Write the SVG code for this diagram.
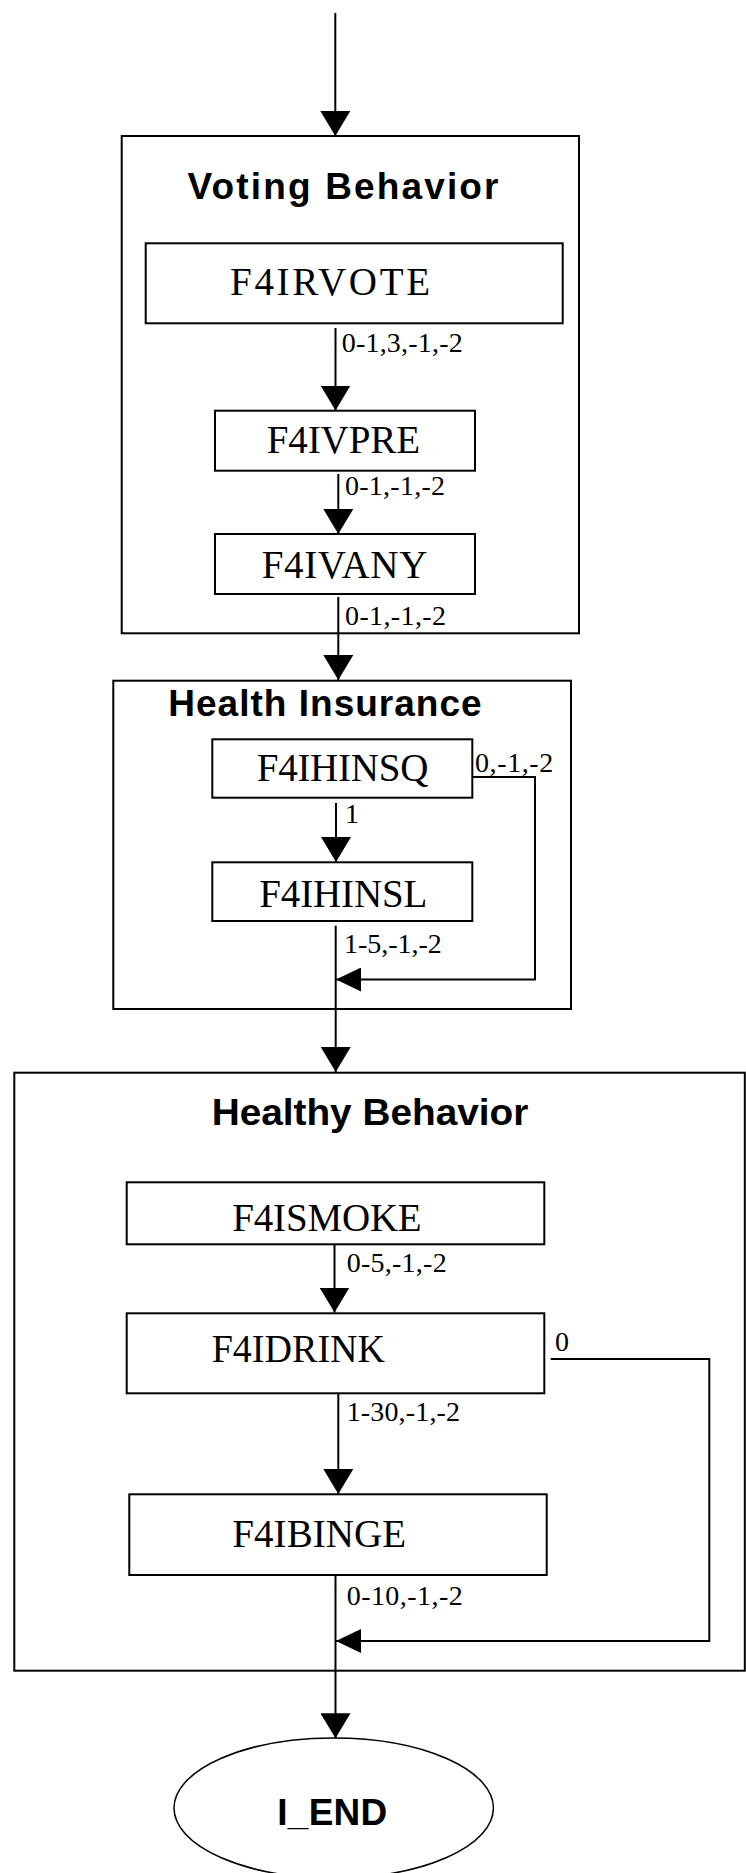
<svg xmlns="http://www.w3.org/2000/svg" width="746" height="1873" viewBox="0 0 746 1873">
<style>
.box{fill:none;stroke:#000;stroke-width:2}
.node{fill:#fff;stroke:#000;stroke-width:2}
.title{font-family:"Liberation Sans",Arial,sans-serif;font-weight:bold;font-size:37px;fill:#000}
.name{font-family:"Liberation Serif","Times New Roman",serif;font-size:39px;fill:#000}
.lbl{font-family:"Liberation Serif","Times New Roman",serif;font-size:28px;fill:#000}
.edge{fill:none;stroke:#000;stroke-width:2;marker-end:url(#arr)}
.edge2{fill:none;stroke:#000;stroke-width:2;marker-end:url(#arrs)}
</style>
<defs>
<marker id="arr" markerUnits="userSpaceOnUse" markerWidth="26" markerHeight="30" refX="25" refY="15" orient="auto" viewBox="0 0 26 30">
<path d="M0,0 L25,15 L0,30 z" fill="#000"/>
</marker>
<marker id="arrs" markerUnits="userSpaceOnUse" markerWidth="26" markerHeight="24" refX="25" refY="12" orient="auto" viewBox="0 0 26 24">
<path d="M0,0 L25,12 L0,24 z" fill="#000"/>
</marker>
</defs>
<rect width="746" height="1873" fill="#fff"/>

<g id="voting-behavior">
<rect class="box" x="121.7" y="136" width="457.3" height="497.3"/>
<text class="title" x="187.5" y="199" textLength="311" lengthAdjust="spacing">Voting Behavior</text>
</g>
<g id="F4IRVOTE">
<rect class="node" x="145.7" y="243.3" width="417" height="80"/>
<text class="name" x="230" y="295" textLength="200" font-size="42">F4IRVOTE</text>
</g>
<g id="F4IVPRE">
<rect class="node" x="215" y="410.7" width="260" height="60"/>
<text class="name" x="266.7" y="453.3" textLength="153.3">F4IVPRE</text>
</g>
<g id="F4IVANY">
<rect class="node" x="215" y="534" width="260" height="60"/>
<text class="name" x="261.7" y="578.3" textLength="165.6">F4IVANY</text>
</g>

<g id="health-insurance">
<rect class="box" x="113.3" y="680.7" width="457.7" height="328.3"/>
<text class="title" x="168.3" y="716" textLength="313.3" lengthAdjust="spacing">Health Insurance</text>
</g>
<g id="F4IHINSQ">
<rect class="node" x="212.3" y="739.3" width="260" height="58.4"/>
<text class="name" x="256.7" y="780.7" textLength="171.6">F4IHINSQ</text>
</g>
<g id="F4IHINSL">
<rect class="node" x="212.3" y="862.3" width="260" height="58.7"/>
<text class="name" x="259.3" y="906.7" textLength="168">F4IHINSL</text>
</g>

<g id="healthy-behavior">
<rect class="box" x="14.3" y="1072.7" width="730.5" height="598"/>
<text class="title" x="211.7" y="1125" font-size="39" textLength="316.6" lengthAdjust="spacingAndGlyphs">Healthy Behavior</text>
</g>
<g id="F4ISMOKE">
<rect class="node" x="126.7" y="1182.3" width="417.6" height="62"/>
<text class="name" x="232.3" y="1231" textLength="189.4">F4ISMOKE</text>
</g>
<g id="F4IDRINK">
<rect class="node" x="126.7" y="1313.3" width="417.6" height="80"/>
<text class="name" x="211.7" y="1362.3" textLength="173.3" lengthAdjust="spacingAndGlyphs">F4IDRINK</text>
</g>
<g id="F4IBINGE">
<rect class="node" x="129.3" y="1494.3" width="417.4" height="80.7"/>
<text class="name" x="232.3" y="1546.7" textLength="173.7">F4IBINGE</text>
</g>

<g id="I_END">
<ellipse cx="333.7" cy="1808" rx="159.7" ry="70" fill="#fff" stroke="#000" stroke-width="1.5"/>
<text class="title" x="277.3" y="1825" textLength="110">I_END</text>
</g>

<g id="connectors">
<path class="edge" d="M335.3,13 V136"/>
<path class="edge" d="M335.5,328 V410.5"/>
<text class="lbl" x="341.7" y="351.7" textLength="121">0-1,3,-1,-2</text>
<path class="edge" d="M338.3,474 V534"/>
<text class="lbl" x="345" y="495" textLength="100">0-1,-1,-2</text>
<path class="edge" d="M338.3,597 V680"/>
<text class="lbl" x="345" y="625" textLength="101">0-1,-1,-2</text>
<path class="edge" d="M336,803 V862"/>
<text class="lbl" x="345" y="823.3">1</text>
<path class="edge2" d="M472.3,777 H535 V979.5 H336"/>
<text class="lbl" x="475" y="772.3" textLength="78.3">0,-1,-2</text>
<path class="edge" d="M335.7,925.7 V1072"/>
<text class="lbl" x="344" y="953.3" textLength="97.7">1-5,-1,-2</text>
<path class="edge" d="M334.5,1244.3 V1312.5"/>
<text class="lbl" x="346.7" y="1271.7" textLength="100">0-5,-1,-2</text>
<path class="edge" d="M338.3,1394 V1494"/>
<text class="lbl" x="346.7" y="1420.7" textLength="113.3">1-30,-1,-2</text>
<path class="edge2" d="M550.7,1359 H709.3 V1641 H336"/>
<text class="lbl" x="555" y="1350.7">0</text>
<path class="edge" d="M335.5,1575 V1738.3"/>
<text class="lbl" x="346.7" y="1605" textLength="116">0-10,-1,-2</text>
</g>
</svg>
